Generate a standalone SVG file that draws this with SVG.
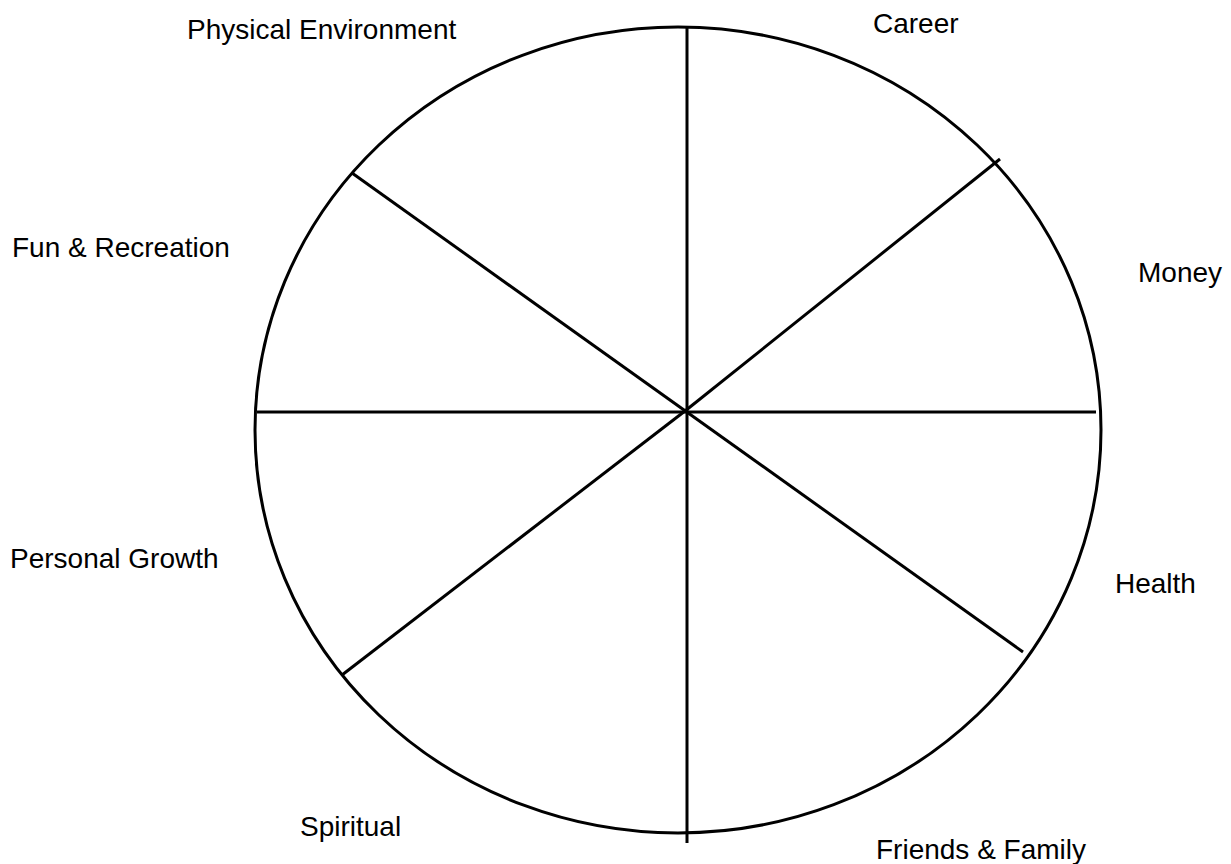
<svg xmlns="http://www.w3.org/2000/svg" width="1231" height="864" viewBox="0 0 1231 864">
<style>
.ln{stroke:#000;stroke-width:3;fill:none;stroke-linecap:butt}
.lb{font-family:"Liberation Sans",Arial,sans-serif;font-size:28px;fill:#000}
</style>
<rect width="1231" height="864" fill="#fff"/>
<g id="wheel">
<ellipse class="ln" cx="678" cy="430" rx="423" ry="403"/>
</g>
<g id="connectors">
<line class="ln" x1="687" y1="28" x2="687" y2="843"/>
<line class="ln" x1="257" y1="412" x2="1096" y2="412"/>
<line class="ln" x1="352" y1="173" x2="1023" y2="652"/>
<line class="ln" x1="685" y1="411" x2="1000" y2="159"/>
<line class="ln" x1="685" y1="411" x2="342" y2="675"/>
</g>
<g id="n-physical"><text class="lb" x="187" y="39">Physical Environment</text></g>
<g id="n-career"><text class="lb" x="873" y="33">Career</text></g>
<g id="n-fun"><text class="lb" x="12" y="257">Fun &amp; Recreation</text></g>
<g id="n-money"><text class="lb" x="1138" y="282">Money</text></g>
<g id="n-growth"><text class="lb" x="10" y="568">Personal Growth</text></g>
<g id="n-health"><text class="lb" x="1115" y="593">Health</text></g>
<g id="n-spiritual"><text class="lb" x="300" y="836">Spiritual</text></g>
<g id="n-friends"><text class="lb" x="876" y="859">Friends &amp; Family</text></g>
</svg>
